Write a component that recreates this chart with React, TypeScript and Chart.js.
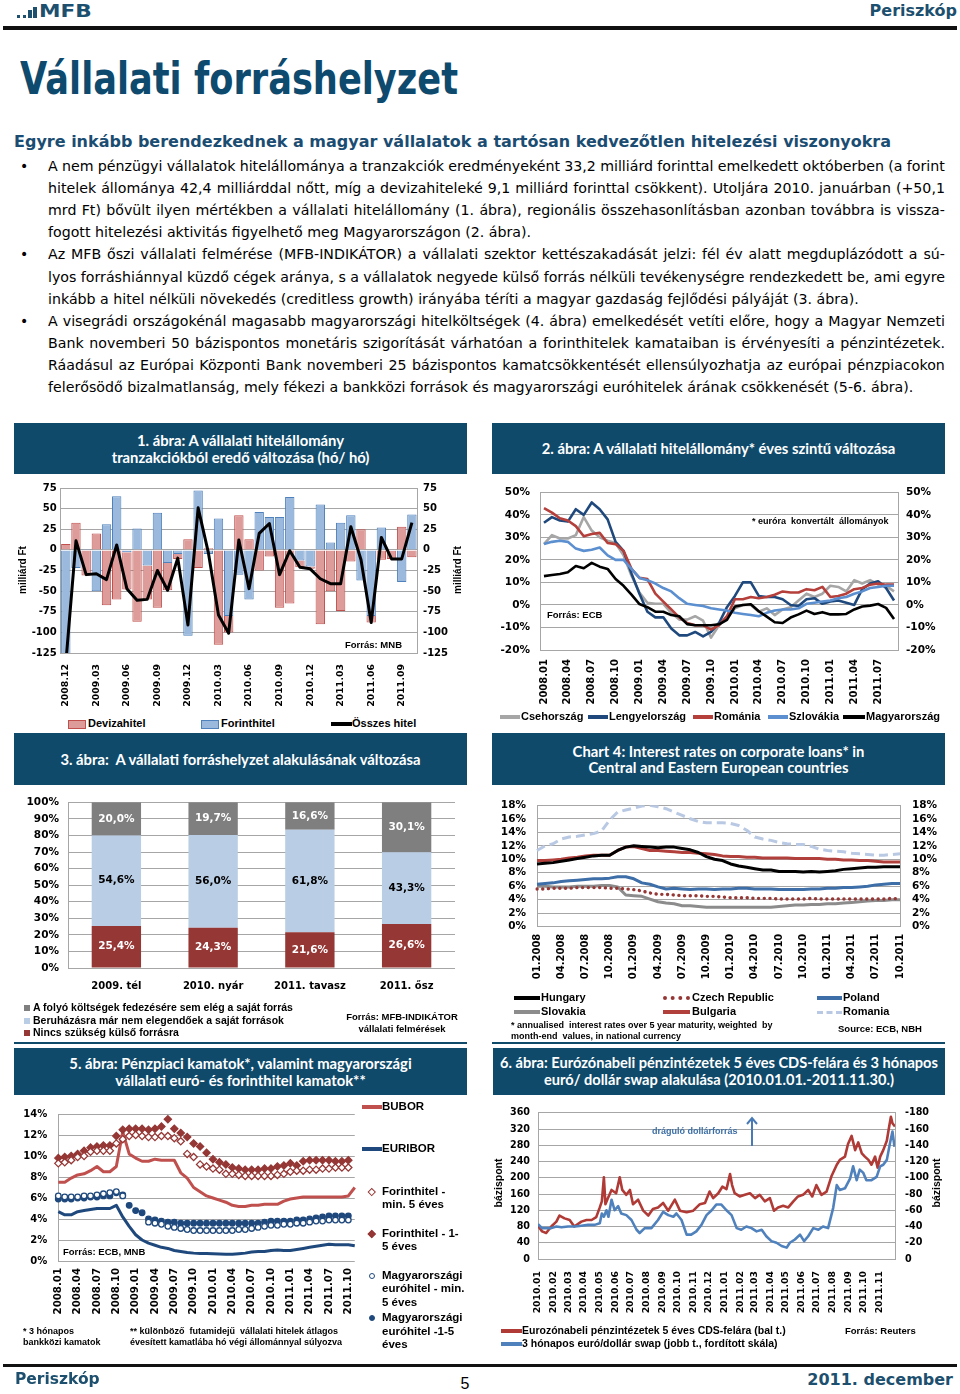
import React, { useEffect, useRef } from "react";
import { Chart, registerables } from "chart.js";
Chart.register(...registerables);

const NAVY = "#0f4a6b";
const HEAD = "#1d4f6e";
const FONT = "'DejaVu Sans', Verdana, sans-serif";
const LFONT = "'Liberation Sans', Arial, sans-serif";
const TFONT = "Lato, 'Liberation Sans', sans-serif";
const GRID = "#a6a6a6";
Chart.defaults.font.family = FONT;

function monthLabels(y: number, m: number, n: number, fmt: (y: number, m: number) => string) {
  const out: string[] = [];
  for (let i = 0; i < n; i++) {
    out.push(fmt(y, m));
    m++;
    if (m > 12) { m = 1; y++; }
  }
  return out;
}
const ym = (y: number, m: number) => `${y}.${String(m).padStart(2, "0")}`;
const my = (y: number, m: number) => `${String(m).padStart(2, "0")}.${y}`;

// ---------- Chart 1 data (2008.12 - 2011.10, milliárd Ft) ----------
const c1Months = monthLabels(2008, 12, 35, ym);
const c1Deviza = [7, 33, -31, 20, -67, -60, -45, -87, -41, -70, -33, -6, 13, -22, 2, -115, -20, 42, 13, -25, -8, -70, -65, -8, -3, -90, -50, -74, -14, 25, -8, -12, -10, 28, -9];
const c1Forint = [-145, -22, 1, -50, 31, 65, -3, 26, -19, 45, -16, -5, -104, 72, -5, 38, -80, -30, -60, 46, 40, 40, 64, -13, -20, 55, 9, 33, 42, -37, -80, 27, -1, -39, 43];
const c1Total = [-138, 11, -30, -29, -36, 6, -47, -61, -60, -25, -49, -10, -91, 51, -3, -79, -101, 12, -47, 20, 32, -30, -1, -21, -23, -35, -41, -41, 28, -12, -88, 15, -11, -11, 33];

// ---------- Chart 2 data (2008.01 - 2011.09, %) ----------
const c2Months = monthLabels(2008, 1, 45, ym);
const c2Cseh = [27, 31, 29.5, 29.5, 31, 39, 33, 30, 28.5, 27.5, 22, 13, 5.5, 1, 0.5, 0.5, -3.5, -6.5, -6.5, -5, -7, -14.5, -9, -5.5, -1.5, 0, 0, -3, -1.5, -4.5, -2, -1, 2, 5, 3.5, 5, 8.5, 8, 6, 11, 9.5, 11, 9, 8.5, 6];
const c2Lengyel = [36.5, 39, 37.5, 37, 42.5, 40, 45.5, 42.5, 38, 28, 24, 14, 5, -3, -5.5, -5.5, -10.5, -13.5, -13.5, -12, -14, -12, -8, -1, 4, 10, 10, 4, 3.5, 3.5, 2.5, 0, -0.5, 2.5, 3, 0.5, 1.5, 2, 1, 0, 7, 9.5, 10.5, 7.5, 2];
const c2Roman = [43, 41, 38.5, 37.5, 35, 30.5, 31.5, 32, 27.5, 27, 24, 16, 12, 11.5, 5, 1.5, -2, -5.5, -8, -9, -9, -11, -9, -5, 2.5, 2.5, 3.5, 3, 3.5, 4.5, 6, 5.5, 5.5, 7, 6.5, 8, 3.5, 4, 5, 7, 7.5, 9, 9.5, 9, 9];
const c2Szlovak = [27, 28, 28.5, 28, 25, 24, 24.5, 25.5, 22, 20, 20, 16, 12, 11, 9.5, 7.5, 6, 3, 0.5, 0, -0.5, -1.5, -2, -2.5, -3.5, -4, -4.5, -5, -3.5, -2.5, -2, -2, -1.5, 0.5, 1, 1.5, 2, 3, 3.5, 5, 6, 7.5, 8, 8.5, 8.5];
const c2Magyar = [12.8, 13.3, 13.7, 14.5, 17.3, 16.3, 18.7, 17, 16, 11.5, 8.5, 4.6, 0.4, -1, -3, -3, -4.5, -5, -8.5, -9, -9, -9, -8.6, -6.6, -0.7, 0, 0.3, -2.8, -5.2, -7.7, -8, -5.6, -4.2, -2.5, -4, -3.2, -4.2, -4.2, -4, -2, -0.7, -0.3, 0.4, -1.3, -6.2];

// ---------- Chart 3 data (%) ----------
const c3Labels = ["2009. tél", "2010. nyár", "2011. tavasz", "2011. ősz"];
const c3Nincs = [25.4, 24.3, 21.6, 26.6];
const c3Beruh = [54.6, 56.0, 61.8, 43.3];
const c3Folyo = [20.0, 19.7, 16.6, 30.1];

// ---------- Chart 4 data (01.2008 - 10.2011, %) ----------
const c4Months = monthLabels(2008, 1, 46, my);
const c4Hungary = [9.3, 9.4, 9.5, 9.7, 9.9, 10.1, 10.3, 10.5, 10.6, 10.6, 11.3, 11.8, 12.0, 11.9, 11.8, 11.7, 11.8, 11.8, 11.6, 11.4, 11.0, 10.4, 10.0, 9.8, 9.3, 9.0, 8.8, 8.6, 8.4, 8.4, 8.2, 8.2, 8.2, 8.1, 8.2, 8.1, 8.2, 8.3, 8.5, 8.6, 8.7, 8.8, 8.8, 8.9, 8.9, 8.9];
const c4Czech = [5.6, 5.6, 5.7, 5.7, 5.7, 5.8, 5.8, 5.8, 5.8, 5.7, 5.7, 5.6, 5.5, 5.3, 5.0, 4.8, 4.8, 4.7, 4.6, 4.6, 4.6, 4.5, 4.5, 4.4, 4.3, 4.3, 4.3, 4.2, 4.2, 4.2, 4.1, 4.1, 4.1, 4.1, 4.2, 4.1, 4.1, 4.1, 4.1, 4.1, 4.1, 4.1, 4.1, 4.1, 4.2, 4.1];
const c4Poland = [6.3, 6.4, 6.5, 6.7, 6.8, 6.9, 7.0, 7.1, 7.1, 7.2, 7.4, 7.4, 7.1, 6.5, 6.3, 5.9, 5.6, 5.7, 5.6, 5.5, 5.6, 5.6, 5.5, 5.6, 5.6, 5.7, 5.7, 5.6, 5.6, 5.6, 5.5, 5.5, 5.5, 5.5, 5.6, 5.6, 5.7, 5.7, 5.8, 5.8, 5.9, 6.0, 6.2, 6.3, 6.4, 6.4];
const c4Slovakia = [6.0, 6.0, 5.9, 5.9, 5.9, 6.0, 6.0, 6.0, 6.1, 6.1, 5.9, 4.7, 4.6, 4.5, 4.1, 3.7, 3.5, 3.4, 3.1, 3.1, 3.0, 2.9, 2.9, 2.9, 2.9, 2.9, 2.9, 2.9, 2.9, 2.9, 3.0, 3.1, 3.2, 3.2, 3.3, 3.3, 3.4, 3.4, 3.5, 3.6, 3.7, 3.8, 3.9, 3.9, 4.0, 4.0];
const c4Bulgaria = [9.8, 9.8, 9.9, 10.0, 10.2, 10.3, 10.5, 10.6, 10.6, 10.6, 11.3, 11.8, 11.9, 11.6, 11.3, 11.3, 11.2, 11.1, 11.0, 11.0, 10.9, 10.8, 10.7, 10.5, 10.4, 10.4, 10.3, 10.3, 10.2, 10.2, 10.2, 10.2, 10.1, 10.1, 10.1, 10.1, 10.0, 10.0, 9.9, 9.9, 9.8, 9.8, 9.7, 9.6, 9.6, 9.6];
const c4Romania = [11.3, 12.0, 12.3, 13.0, 13.3, 13.4, 13.6, 13.8, 14.2, 15.8, 17.0, 17.3, 17.6, 17.9, 18.0, 17.8, 17.5, 17.0, 16.5, 16.0, 15.6, 15.4, 15.4, 15.4, 15.3, 15.0, 14.3, 13.3, 13.0, 12.8, 12.5, 12.3, 12.2, 12.2, 11.9, 11.5, 11.3, 11.2, 11.1, 10.9, 10.8, 10.7, 10.6, 10.6, 10.7, 10.8];

// ---------- Chart 5 data (2008.01 - 2011.11, %) ----------
const c5Months = monthLabels(2008, 1, 47, ym);
const c5Bubor = [7.5, 7.5, 7.9, 8.2, 8.3, 8.6, 9.0, 8.5, 8.5, 9.0, 12.3, 10.2, 9.8, 9.5, 9.5, 9.7, 9.6, 9.6, 9.6, 8.4, 7.9, 7.0, 6.6, 6.2, 6.0, 5.8, 5.6, 5.3, 5.2, 5.2, 5.3, 5.3, 5.4, 5.4, 5.4, 5.7, 5.9, 6.0, 6.1, 6.1, 6.1, 6.1, 6.1, 6.1, 6.1, 6.2, 7.0];
const c5Euribor = [4.7, 4.4, 4.4, 4.7, 4.8, 4.9, 5.0, 5.0, 5.0, 5.3, 4.2, 3.3, 2.5, 2.0, 1.7, 1.5, 1.3, 1.2, 1.0, 0.9, 0.8, 0.75, 0.72, 0.71, 0.68, 0.66, 0.65, 0.65, 0.7, 0.75, 0.85, 0.9, 0.9, 1.0, 1.05, 1.0, 1.0, 1.1, 1.2, 1.3, 1.4, 1.5, 1.6, 1.55, 1.55, 1.55, 1.45];
const c5ForMin5 = [9.3, 9.4, 9.6, 9.9, 10.0, 10.4, 10.5, 10.5, 10.5, 11.2, 11.6, 11.9, 12.0, 11.9, 11.8, 11.8, 11.9, 11.9, 11.7, 11.4, 10.2, 9.9, 9.2, 9.0, 8.8, 8.7, 8.3, 8.3, 8.2, 8.1, 8.1, 8.1, 8.1, 8.1, 8.2, 8.3, 8.5, 8.6, 8.6, 8.7, 8.7, 8.8, 8.8, 8.9, 8.9, 8.9, null];
const c5For15 = [9.8, 9.9, 10.0, 10.2, 10.5, 10.8, 10.9, 11.0, 11.0, 11.9, 12.5, 12.6, 12.6, 12.6, 12.5, 12.6, 12.8, 13.5, 12.6, 12.2, 11.8, 11.2, 10.9, 10.3, 9.7, 9.4, 9.2, 8.9, 8.8, 8.7, 8.7, 8.7, 8.8, 8.8, 9.0, 9.1, 9.3, 9.1, 9.5, 9.6, 9.6, 9.6, 9.6, 9.5, 9.5, 9.6, null];
const c5EurMin5 = [6.2, 6.1, 6.1, 6.1, 6.2, 6.2, 6.3, 6.4, 6.5, 6.6, 6.2, null, null, null, 3.7, 3.6, 3.5, 3.3, 3.2, 3.1, 3.0, 2.9, 2.9, 2.9, 2.9, 2.9, 2.9, 2.9, 3.0, 3.0, 3.1, 3.2, 3.3, 3.4, 3.4, 3.5, 3.5, 3.6, 3.6, 3.7, 3.8, 3.8, 3.9, 3.9, 3.9, 3.9, null];
const c5Eur15 = [5.9, 5.9, 5.9, 6.0, 6.0, 6.1, 6.1, 6.2, 6.2, 6.5, 6.3, 5.3, 4.8, 4.6, 4.0, 3.9, 3.8, 3.7, 3.7, 3.6, 3.6, 3.6, 3.6, 3.6, 3.6, 3.6, 3.6, 3.6, 3.6, 3.6, 3.6, 3.6, 3.7, 3.8, 3.8, 3.8, 3.8, 3.9, 3.9, 4.0, 4.1, 4.2, 4.3, 4.3, 4.3, 4.3, null];

// ---------- Chart 6 data (days since 2010.01.01, bázispont) ----------
const c6MonthDays = [0, 31, 59, 90, 120, 151, 181, 212, 243, 273, 304, 334, 365, 396, 424, 455, 485, 516, 546, 577, 608, 638, 669];
const c6MonthLabels = monthLabels(2010, 1, 23, ym);
const c6CdsDays = [0, 8, 16, 26, 36, 42, 52, 62, 71, 85, 95, 105, 114, 121, 125, 129, 132, 137, 144, 153, 160, 165, 173, 180, 186, 196, 206, 216, 225, 235, 245, 255, 268, 278, 291, 304, 317, 327, 336, 343, 353, 361, 369, 376, 380, 385, 395, 405, 415, 425, 434, 444, 454, 462, 470, 480, 490, 500, 509, 519, 529, 537, 545, 555, 565, 575, 585, 591, 601, 607, 614, 621, 627, 634, 640, 647, 653, 660, 665, 670, 676, 683, 687, 691, 694, 699];
const c6CdsValues = [82, 68, 64, 80, 92, 107, 100, 96, 80, 92, 96, 96, 103, 127, 142, 201, 135, 150, 170, 162, 201, 170, 158, 170, 135, 146, 119, 107, 123, 127, 138, 119, 146, 119, 115, 119, 135, 138, 166, 150, 162, 178, 172, 209, 182, 162, 154, 158, 162, 150, 158, 142, 150, 119, 127, 131, 127, 142, 154, 158, 170, 154, 182, 158, 166, 205, 232, 244, 252, 283, 303, 268, 287, 260, 252, 244, 232, 252, 225, 252, 268, 291, 322, 350, 334, 326];
const c6SwapDays = [0, 8, 16, 26, 36, 46, 59, 72, 85, 98, 111, 121, 125, 129, 134, 138, 144, 150, 157, 163, 173, 183, 193, 199, 209, 222, 235, 245, 255, 265, 271, 281, 291, 300, 310, 320, 330, 340, 349, 359, 369, 379, 389, 398, 408, 418, 428, 438, 447, 457, 467, 477, 487, 493, 503, 513, 521, 529, 539, 549, 558, 568, 578, 585, 591, 601, 611, 617, 624, 630, 637, 643, 653, 663, 670, 676, 683, 689, 694, 698];
const c6SwapValues = [-43, -38, -38, -38, -40, -39, -40, -40, -41, -42, -42, -44, -56, -52, -60, -52, -73, -60, -65, -56, -54, -48, -36, -32, -38, -38, -48, -58, -54, -52, -56, -48, -30, -30, -34, -42, -54, -60, -67, -67, -60, -54, -38, -36, -40, -38, -34, -36, -28, -22, -20, -16, -14, -20, -24, -30, -22, -28, -38, -36, -40, -38, -63, -91, -85, -87, -99, -114, -97, -110, -106, -97, -97, -101, -114, -116, -122, -142, -157, -138];

// ---------- text ----------
const bulletParas: string[][] = [
  [
    "A nem pénzügyi vállalatok hitelállománya a tranzakciók eredményeként 33,2 milliárd forinttal emelkedett októberben (a forint",
    "hitelek állománya 42,4 milliárddal nőtt, míg a devizahiteleké 9,1 milliárd forinttal csökkent). Utoljára 2010. januárban (+50,1",
    "mrd Ft) bővült ilyen mértékben a vállalati hitelállomány (1. ábra), regionális összehasonlításban azonban továbbra is vissza-",
    "fogott hitelezési aktivitás figyelhető meg Magyarországon (2. ábra).",
  ],
  [
    "Az MFB őszi vállalati felmérése (MFB-INDIKÁTOR) a vállalati szektor kettészakadását jelzi: fél év alatt megduplázódott a sú-",
    "lyos forráshiánnyal küzdő cégek aránya, s a vállalatok negyede külső forrás nélküli tevékenységre rendezkedett be, ami egyre",
    "inkább a hitel nélküli növekedés (creditless growth) irányába téríti a magyar gazdaság fejlődési pályáját (3. ábra).",
  ],
  [
    "A visegrádi országokénál magasabb magyarországi hitelköltségek (4. ábra) emelkedését vetíti előre, hogy a Magyar Nemzeti",
    "Bank novemberi 50 bázispontos monetáris szigorítását várhatóan a forinthitelek kamataiban is érvényesíti a pénzintézetek.",
    "Ráadásul az Európai Központi Bank novemberi 25 bázispontos kamatcsökkentését ellensúlyozhatja az európai pénzpiacokon",
    "felerősödő bizalmatlanság, mely fékezi a bankközi források és magyarországi euróhitelek árának csökkenését (5-6. ábra).",
  ],
];

// ---------- chart helpers ----------
const tf = (size: number) => ({ family: FONT, size, weight: "bold" as any });

function yAx(o: any) {
  return {
    type: "linear",
    position: o.pos || "left",
    min: o.min,
    max: o.max,
    reverse: !!o.reverse,
    stacked: !!o.stacked,
    ticks: { autoSkip: false, stepSize: o.step, padding: o.pad, color: "#000", font: tf(o.size), callback: (v: any) => (o.fmt ? o.fmt(v) : String(v)) },
    grid: { display: !!o.grid, color: GRID, drawTicks: false },
    border: { display: true, color: GRID },
    afterFit: (s: any) => { s.width = o.width; },
  };
}

function xCat(o: any) {
  const rot = o.rot === undefined ? 90 : o.rot;
  return {
    type: "category",
    offset: o.offset,
    stacked: !!o.stacked,
    grid: { display: false, drawTicks: false },
    border: { display: false },
    ticks: {
      autoSkip: false, minRotation: rot, maxRotation: rot, padding: o.pad, color: "#000", font: tf(o.size),
      callback: (_v: any, i: number) => (i % o.every === 0 ? o.labels[i] : ""),
    },
    afterFit: (s: any) => { s.height = o.height; },
  };
}

function baseOpts(padTop: number, padRight = 0) {
  return {
    responsive: false,
    maintainAspectRatio: false,
    animation: false,
    events: [],
    layout: { padding: { top: padTop, right: padRight, left: 0, bottom: 0 } },
    plugins: { legend: { display: false }, tooltip: { enabled: false }, title: { display: false } },
  };
}

const lineDs = (label: string, data: any[], color: string, extra: any = {}) => ({
  type: "line", label, data, borderColor: color, backgroundColor: color, borderWidth: 2.6, pointRadius: 0, tension: 0, fill: false, borderJoinStyle: "round", ...extra,
});

const makeC1 = () => ({
  type: "bar",
  data: {
    labels: c1Months,
    datasets: [
      { ...lineDs("Összes hitel", c1Total, "#000", { borderWidth: 3 }), order: 0, stack: "total" },
      { type: "bar", label: "Forinthitel", data: c1Forint, backgroundColor: "#9bb9dd", borderColor: "#4f81bd", borderWidth: 1, order: 1, stack: "bars", categoryPercentage: 0.92, barPercentage: 1 },
      { type: "bar", label: "Devizahitel", data: c1Deviza, backgroundColor: "#dd9c9a", borderColor: "#c0504d", borderWidth: 1, order: 1, stack: "bars", categoryPercentage: 0.92, barPercentage: 1 },
    ],
  },
  options: {
    ...baseOpts(9.7),
    scales: {
      x: xCat({ labels: c1Months, every: 3, height: 63, size: 9.4, pad: 11, offset: true, stacked: true }),
      y: yAx({ min: -125, max: 75, step: 25, width: 46.7, size: 10, pad: 4, grid: true, stacked: true }),
      y2: yAx({ pos: "right", min: -125, max: 75, step: 25, width: 50, size: 10, pad: 6, grid: false }),
    },
  },
});

const pct = (v: any) => `${v}%`;

const makeC2 = () => ({
  type: "line",
  data: {
    labels: c2Months,
    datasets: [
      { ...lineDs("Magyarország", c2Magyar, "#000"), order: 0 },
      { ...lineDs("Szlovákia", c2Szlovak, "#5b8fd0"), order: 1 },
      { ...lineDs("Románia", c2Roman, "#b43f3b"), order: 2 },
      { ...lineDs("Lengyelország", c2Lengyel, "#1f497d"), order: 3 },
      { ...lineDs("Csehország", c2Cseh, "#a6a6a6"), order: 4 },
    ],
  },
  options: {
    ...baseOpts(8),
    scales: {
      x: xCat({ labels: c2Months, every: 3, height: 58, size: 10, pad: 9, offset: true }),
      y: yAx({ min: -20, max: 50, step: 10, width: 48, size: 10.5, pad: 10, grid: true, fmt: pct }),
      y2: yAx({ pos: "right", min: -20, max: 50, step: 10, width: 49, size: 10.5, pad: 8, grid: false, fmt: pct }),
    },
  },
});

const c3LabelColors = ["#fff", "#000", "#fff"];
const c3LabelPlugin = {
  id: "c3labels",
  afterDatasetsDraw(chart: any) {
    const ctx = chart.ctx;
    ctx.save();
    ctx.font = `bold 10.5px ${FONT}`;
    ctx.textAlign = "center";
    ctx.textBaseline = "middle";
    chart.data.datasets.forEach((ds: any, di: number) => {
      const meta = chart.getDatasetMeta(di);
      meta.data.forEach((el: any, i: number) => {
        const v = ds.data[i];
        ctx.fillStyle = c3LabelColors[di];
        ctx.fillText(v.toFixed(1).replace(".", ",") + "%", el.x, (el.y + el.base) / 2);
      });
    });
    ctx.restore();
  },
};

const makeC3 = () => ({
  type: "bar",
  data: {
    labels: c3Labels,
    datasets: [
      { label: "Nincs szükség külső forrásra", data: c3Nincs, backgroundColor: "#953735", barPercentage: 0.51, categoryPercentage: 1 },
      { label: "Beruházásra már nem elegendőek a saját források", data: c3Beruh, backgroundColor: "#b9cde5", barPercentage: 0.51, categoryPercentage: 1 },
      { label: "A folyó költségek fedezésére sem elég a saját forrás", data: c3Folyo, backgroundColor: "#7f7f7f", barPercentage: 0.51, categoryPercentage: 1 },
    ],
  },
  options: {
    ...baseOpts(8.7, 12),
    scales: {
      x: xCat({ labels: c3Labels, every: 1, height: 34, size: 10, pad: 12, offset: true, stacked: true, rot: 0 }),
      y: yAx({ min: 0, max: 100, step: 10, width: 54, size: 10.5, pad: 9, grid: true, stacked: true, fmt: pct }),
    },
  },
  plugins: [c3LabelPlugin],
});

const makeC4 = () => ({
  type: "line",
  data: {
    labels: c4Months,
    datasets: [
      { ...lineDs("Hungary", c4Hungary, "#000", { borderWidth: 3 }), order: 0 },
      { ...lineDs("Czech Republic", c4Czech, "#953735", { borderWidth: 3.4, borderDash: [0.1, 5.6], borderCapStyle: "round" }), order: 1 },
      { ...lineDs("Poland", c4Poland, "#3d6ea8", { borderWidth: 3 }), order: 2 },
      { ...lineDs("Slovakia", c4Slovakia, "#8c8c8c", { borderWidth: 3 }), order: 3 },
      { ...lineDs("Bulgaria", c4Bulgaria, "#b1403c", { borderWidth: 3 }), order: 4 },
      { ...lineDs("Romania", c4Romania, "#b9c9e3", { borderWidth: 3, borderDash: [9, 5] }), order: 5 },
    ],
  },
  options: {
    ...baseOpts(8.7),
    scales: {
      x: xCat({ labels: c4Months, every: 3, height: 63.3, size: 10, pad: 7, offset: false }),
      y: yAx({ min: 0, max: 18, step: 2, width: 45, size: 10.5, pad: 11, grid: true, fmt: pct }),
      y2: yAx({ pos: "right", min: 0, max: 18, step: 2, width: 47, size: 10.5, pad: 12, grid: false, fmt: pct }),
    },
  },
});

const markerDs = (label: string, data: any[], style: string, color: string, hollow: boolean, r: number) => ({
  type: "line", label, data, showLine: false, pointStyle: style, pointRadius: r, pointBorderWidth: 1.3,
  pointBorderColor: color, pointBackgroundColor: hollow ? "#fff" : color, borderColor: color, backgroundColor: color, order: 0,
});

const makeC5 = () => ({
  type: "line",
  data: {
    labels: c5Months,
    datasets: [
      markerDs("Forinthitel - min. 5 éves", c5ForMin5, "rectRot", "#953735", true, 3.6),
      markerDs("Forinthitel - 1-5 éves", c5For15, "rectRot", "#953735", false, 3.6),
      markerDs("Magyarországi euróhitel - min. 5 éves", c5EurMin5, "circle", "#1f497d", true, 2.8),
      markerDs("Magyarországi euróhitel -1-5 éves", c5Eur15, "circle", "#1f497d", false, 2.8),
      { ...lineDs("BUBOR", c5Bubor, "#c0504d", { borderWidth: 3 }), order: 1 },
      { ...lineDs("EURIBOR", c5Euribor, "#1f497d", { borderWidth: 3 }), order: 1 },
    ],
  },
  options: {
    ...baseOpts(5.7, 14.7),
    scales: {
      x: xCat({ labels: c5Months, every: 3, height: 58, size: 10.2, pad: 7, offset: false }),
      y: yAx({ min: 0, max: 14, step: 2, width: 44.3, size: 10, pad: 11, grid: true, fmt: pct }),
    },
  },
});

const makeC6 = () => ({
  type: "line",
  data: {
    datasets: [
      { ...lineDs("3 hónapos euró/dollár swap (jobb t., fordított skála)", c6SwapDays.map((d, i) => ({ x: d, y: c6SwapValues[i] })), "#4f81bd", { borderWidth: 2.6 }), yAxisID: "y2", order: 0 },
      { ...lineDs("Eurozónabeli pénzintézetek 5 éves CDS-felára (bal t.)", c6CdsDays.map((d, i) => ({ x: d, y: c6CdsValues[i] })), "#b03a36", { borderWidth: 2.6 }), yAxisID: "y", order: 1 },
    ],
  },
  options: {
    ...baseOpts(8.7),
    scales: {
      x: {
        type: "linear", min: 0, max: 699, offset: false,
        grid: { display: false, drawTicks: false },
        border: { display: false },
        afterBuildTicks: (s: any) => { s.ticks = c6MonthDays.map((v) => ({ value: v })); },
        ticks: { autoSkip: false, minRotation: 90, maxRotation: 90, padding: 12, color: "#000", font: tf(9.3), callback: (_v: any, i: number) => c6MonthLabels[i] },
        afterFit: (s: any) => { s.height = 60; },
      },
      y: yAx({ min: 0, max: 360, step: 40, width: 45, size: 9.6, pad: 8, grid: true }),
      y2: yAx({ pos: "right", min: -180, max: 0, step: 20, width: 52, size: 9.6, pad: 10, grid: false, reverse: true }),
    },
  },
});

// ---------- components ----------
function ChartBox({ x, y, w, h, make }: any) {
  const ref = useRef<HTMLCanvasElement | null>(null);
  useEffect(() => {
    if (!ref.current) return;
    const chart = new Chart(ref.current, make());
    return () => chart.destroy();
  }, []);
  return <canvas ref={ref} width={w} height={h} style={{ position: "absolute", left: x, top: y, width: w, height: h }} />;
}

function Txt({ x, cy, t, size = 11, w = 700, fam = LFONT, color = "#000", align = "left" }: any) {
  const lh = Math.round(size * 1.3);
  const st: any = { position: "absolute", top: cy - lh / 2, height: lh, lineHeight: `${lh}px`, font: `${w} ${size}px ${fam}`, color, whiteSpace: "pre" };
  if (align === "left") st.left = x;
  else if (align === "right") st.right = 960 - x;
  else { st.left = x - 150; st.width = 300; st.textAlign = "center"; }
  return <div style={st}>{t}</div>;
}

function VTxt({ cx, cy, t, size = 10 }: any) {
  return (
    <div style={{ position: "absolute", left: cx - 60, top: cy - 8, width: 120, height: 16, lineHeight: "16px", textAlign: "center", transform: "rotate(-90deg)", font: `700 ${size}px ${LFONT}`, color: "#000", whiteSpace: "pre" }}>{t}</div>
  );
}

function TitleBox({ x, y, w, h, lines, size = 14.8 }: any) {
  return (
    <div style={{ position: "absolute", left: x, top: y, width: w, height: h, background: NAVY, color: "#fff", display: "flex", flexDirection: "column", alignItems: "center", justifyContent: "center", font: `700 ${size}px ${TFONT}`, lineHeight: `${size + 1.5}px`, textAlign: "center" }}>
      {lines.map((l: string, i: number) => (<div key={i} style={{ whiteSpace: "pre" }}>{l}</div>))}
    </div>
  );
}

const LineSw = ({ x, y, w, color, h = 3.5 }: any) => (<div style={{ position: "absolute", left: x, top: y - h / 2, width: w, height: h, background: color }} />);
const DotSw = ({ x, y, w, color }: any) => (<div style={{ position: "absolute", left: x, top: y - 2, width: w, height: 0, borderTop: `4px dotted ${color}` }} />);
const DashSw = ({ x, y, w, color }: any) => (<div style={{ position: "absolute", left: x, top: y - 1.5, width: w, height: 0, borderTop: `3px dashed ${color}` }} />);
const BoxSw = ({ x, y, w, h, fill, stroke }: any) => (<div style={{ position: "absolute", left: x, top: y - h / 2, width: w, height: h, background: fill, border: stroke ? `1px solid ${stroke}` : "none", boxSizing: "border-box" }} />);
const Diamond = ({ cx, cy, color, hollow }: any) => (<div style={{ position: "absolute", left: cx - 2.75, top: cy - 2.75, width: 5.5, height: 5.5, transform: "rotate(45deg)", background: hollow ? "#fff" : color, border: `1.3px solid ${color}`, boxSizing: "border-box" }} />);
const Dot = ({ cx, cy, color, hollow }: any) => (<div style={{ position: "absolute", left: cx - 3, top: cy - 3, width: 6, height: 6, borderRadius: "50%", background: hollow ? "#fff" : color, border: `1.3px solid ${color}`, boxSizing: "border-box" }} />);

function JLine({ text, cy, justify }: any) {
  const words = text.split(" ");
  const st: any = { position: "absolute", left: 48, width: 897, top: cy - 11, height: 22, lineHeight: "22px", font: `400 14.2px ${FONT}`, color: "#000", whiteSpace: "nowrap" };
  if (justify) { st.display = "flex"; st.justifyContent = "space-between"; }
  return <div style={st}>{justify ? words.map((w: string, i: number) => <span key={i}>{w}</span>) : text}</div>;
}

export default function App() {
  useEffect(() => { document.body.style.margin = "0"; }, []);
  let k = 0;
  const bodyLines: any[] = [];
  bulletParas.forEach((p, pi) => {
    p.forEach((line, li) => {
      const cy = 169 + 22.1 * k;
      if (li === 0) bodyLines.push(<div key={`b${pi}`} style={{ position: "absolute", left: 20, top: cy - 11, lineHeight: "22px", font: `400 14px ${FONT}` }}>•</div>);
      const isLast = li === p.length - 1;
      bodyLines.push(<JLine key={`l${pi}-${li}`} text={line} cy={cy} justify={!isLast} />);
      k++;
    });
  });

  return (
    <div style={{ position: "absolute", left: 0, top: 0, width: 960, height: 1394, background: "#fff", overflow: "hidden", fontFamily: FONT }}>
      {/* header */}
      <div style={{ position: "absolute", left: 17, top: 15, width: 3, height: 3, background: HEAD }} />
      <div style={{ position: "absolute", left: 23, top: 15, width: 3, height: 3, background: HEAD }} />
      <div style={{ position: "absolute", left: 28, top: 10, width: 4, height: 8, background: HEAD }} />
      <div style={{ position: "absolute", left: 33, top: 7, width: 4, height: 11, background: HEAD }} />
      <div style={{ position: "absolute", left: 39, top: -1, font: `700 18px ${FONT}`, lineHeight: "24px", color: HEAD, transform: "scaleX(1.2)", transformOrigin: "left" }}>MFB</div>
      <Txt x={957} cy={11} t="Periszkóp" size={16} fam={FONT} color={HEAD} align="right" />
      <div style={{ position: "absolute", left: 3, top: 26, width: 954, height: 4, background: "#111" }} />

      {/* title */}
      <div style={{ position: "absolute", left: 20, top: 57, font: `700 44px ${FONT}`, lineHeight: "44px", color: "#0d4a6e", whiteSpace: "nowrap", transform: "scaleX(0.8)", transformOrigin: "left" }}>Vállalati forráshelyzet</div>

      <Txt x={14} cy={142} t="Egyre inkább berendezkednek a magyar vállalatok a tartósan kedvezőtlen hitelezési viszonyokra" size={16} fam={FONT} color="#1b4d72" />
      {bodyLines}

      {/* ---- Chart 1 ---- */}
      <TitleBox x={14} y={423} w={453} h={51} lines={["1. ábra: A vállalati hitelállomány", "tranzakciókból eredő változása (hó/ hó)"]} />
      <ChartBox x={14} y={476} w={453} h={240} make={makeC1} />
      <VTxt cx={25} cy={570} t="milliárd Ft" size={10} />
      <VTxt cx={460} cy={570} t="milliárd Ft" size={10} />
      <Txt x={345} cy={645} t="Forrás: MNB" size={9.5} />
      <BoxSw x={68} y={724} w={18} h={9} fill="#dd9c9a" stroke="#c0504d" />
      <Txt x={88} cy={724} t="Devizahitel" size={11} />
      <BoxSw x={201} y={724} w={18} h={9} fill="#9bb9dd" stroke="#4f81bd" />
      <Txt x={221} cy={724} t="Forinthitel" size={11} />
      <LineSw x={331} y={724} w={21} color="#000" />
      <Txt x={352} cy={724} t="Összes hitel" size={11} />

      {/* ---- Chart 2 ---- */}
      <TitleBox x={492} y={423} w={453} h={51} lines={["2. ábra: A vállalati hitelállomány* éves szintű változása"]} />
      <ChartBox x={492} y={476} w={455} h={232} make={makeC2} />
      <Txt x={752} cy={522} t="* euróra  konvertált  állományok" size={9} />
      <Txt x={547} cy={615} t="Forrás: ECB" size={9.5} />
      <LineSw x={500} y={717} w={20} color="#a6a6a6" />
      <Txt x={521} cy={717} t="Csehország" size={11} />
      <LineSw x={588} y={717} w={20} color="#1f497d" />
      <Txt x={609} cy={717} t="Lengyelország" size={11} />
      <LineSw x={693} y={717} w={20} color="#b43f3b" />
      <Txt x={714} cy={717} t="Románia" size={11} />
      <LineSw x={768} y={717} w={20} color="#5b8fd0" />
      <Txt x={789} cy={717} t="Szlovákia" size={11} />
      <LineSw x={843} y={717} w={22} color="#000" />
      <Txt x={866} cy={717} t="Magyarország" size={11} />

      {/* ---- Chart 3 ---- */}
      <TitleBox x={14} y={733} w={453} h={52} lines={["3. ábra:  A vállalati forráshelyzet alakulásának változása"]} />
      <ChartBox x={14} y={787} w={453} h={215} make={makeC3} />
      <BoxSw x={24} y={1008} w={6} h={6} fill="#7f7f7f" />
      <Txt x={33} cy={1008} t="A folyó költségek fedezésére sem elég a saját forrás" size={10.5} />
      <BoxSw x={24} y={1021} w={6} h={6} fill="#b9cde5" />
      <Txt x={33} cy={1021} t="Beruházásra már nem elegendőek a saját források" size={10.5} />
      <BoxSw x={24} y={1033} w={6} h={6} fill="#953735" />
      <Txt x={33} cy={1033} t="Nincs szükség külső forrásra" size={10.5} />
      <Txt x={402} cy={1017} t="Forrás: MFB-INDIKÁTOR" size={9.5} align="center" />
      <Txt x={402} cy={1029} t="vállalati felmérések" size={9.5} align="center" />
      <div style={{ position: "absolute", left: 14, top: 1042, width: 453, height: 2, background: NAVY }} />

      {/* ---- Chart 4 ---- */}
      <TitleBox x={492} y={733} w={453} h={52} lines={["Chart 4: Interest rates on corporate loans* in", "Central and Eastern European countries"]} />
      <ChartBox x={492} y={787} w={455} h={203} make={makeC4} />
      <LineSw x={514} y={998} w={26} color="#000" />
      <Txt x={541} cy={998} t="Hungary" size={11} />
      <DotSw x={663} y={998} w={27} color="#953735" />
      <Txt x={692} cy={998} t="Czech Republic" size={11} />
      <LineSw x={817} y={998} w={25} color="#3d6ea8" />
      <Txt x={843} cy={998} t="Poland" size={11} />
      <LineSw x={514} y={1012} w={26} color="#8c8c8c" />
      <Txt x={541} cy={1012} t="Slovakia" size={11} />
      <LineSw x={663} y={1012} w={27} color="#b1403c" />
      <Txt x={692} cy={1012} t="Bulgaria" size={11} />
      <DashSw x={817} y={1012} w={25} color="#b9c9e3" />
      <Txt x={843} cy={1012} t="Romania" size={11} />
      <Txt x={511} cy={1026} t="* annualised  interest rates over 5 year maturity, weighted  by" size={9} />
      <Txt x={511} cy={1037} t="month-end  values, in national currency" size={9} />
      <Txt x={838} cy={1029} t="Source: ECB, NBH" size={9.5} />
      <div style={{ position: "absolute", left: 492, top: 1042, width: 453, height: 2, background: NAVY }} />

      {/* ---- Chart 5 ---- */}
      <TitleBox x={14} y={1048} w={453} h={47} lines={["5. ábra: Pénzpiaci kamatok*, valamint magyarországi", "vállalati euró- és forinthitel kamatok**"]} />
      <ChartBox x={14} y={1097} w={360} h={222} make={makeC5} />
      <Txt x={63} cy={1252} t="Forrás: ECB, MNB" size={9.5} />
      <LineSw x={362} y={1107} w={20} color="#c0504d" />
      <Txt x={382} cy={1107} t="BUBOR" size={11.5} />
      <LineSw x={362} y={1149} w={20} color="#1f497d" />
      <Txt x={382} cy={1149} t="EURIBOR" size={11.5} />
      <Diamond cx={372} cy={1192} color="#953735" hollow />
      <Txt x={382} cy={1192} t="Forinthitel -" size={11.5} />
      <Txt x={382} cy={1205} t="min. 5 éves" size={11.5} />
      <Diamond cx={372} cy={1234} color="#953735" />
      <Txt x={382} cy={1234} t="Forinthitel - 1-" size={11.5} />
      <Txt x={382} cy={1247} t="5 éves" size={11.5} />
      <Dot cx={372} cy={1276} color="#1f497d" hollow />
      <Txt x={382} cy={1276} t="Magyarországi" size={11.5} />
      <Txt x={382} cy={1289} t="euróhitel - min." size={11.5} />
      <Txt x={382} cy={1303} t="5 éves" size={11.5} />
      <Dot cx={372} cy={1318} color="#1f497d" />
      <Txt x={382} cy={1318} t="Magyarországi" size={11.5} />
      <Txt x={382} cy={1332} t="euróhitel -1-5" size={11.5} />
      <Txt x={382} cy={1345} t="éves" size={11.5} />
      <Txt x={23} cy={1332} t="* 3 hónapos" size={9} />
      <Txt x={23} cy={1343} t="bankközi kamatok" size={9} />
      <Txt x={130} cy={1332} t="** különböző  futamidejű  vállalati hitelek átlagos" size={9} />
      <Txt x={130} cy={1343} t="évesített kamatlába hó végi állománnyal súlyozva" size={9} />

      {/* ---- Chart 6 ---- */}
      <TitleBox x={493} y={1048} w={452} h={47} lines={["6. ábra: Eurózónabeli pénzintézetek 5 éves CDS-felára és 3 hónapos", "euró/ dollár swap alakulása (2010.01.01.-2011.11.30.)"]} size={14.6} />
      <ChartBox x={493} y={1097} w={454} h={222} make={makeC6} />
      <VTxt cx={500} cy={1183} t="bázispont" size={10.5} />
      <VTxt cx={938} cy={1183} t="bázispont" size={10.5} />
      <Txt x={652} cy={1132} t="dráguló dollárforrás" size={9} color="#3d6fa5" />
      <svg style={{ position: "absolute", left: 745, top: 1116, width: 14, height: 31 }} width={14} height={31}>
        <line x1={7} y1={30} x2={7} y2={3} stroke="#4a7ab5" strokeWidth={2} />
        <polyline points="2,8 7,2 12,8" fill="none" stroke="#4a7ab5" strokeWidth={2} />
      </svg>
      <LineSw x={501} y={1331} w={21} color="#b03a36" />
      <Txt x={522} cy={1331} t="Eurozónabeli pénzintézetek 5 éves CDS-felára (bal t.)" size={10.5} />
      <LineSw x={501} y={1344} w={21} color="#4f81bd" />
      <Txt x={522} cy={1344} t="3 hónapos euró/dollár swap (jobb t., fordított skála)" size={10.5} />
      <Txt x={845} cy={1331} t="Forrás: Reuters" size={9.5} />

      {/* footer */}
      <div style={{ position: "absolute", left: 3, top: 1364, width: 954, height: 3, background: "#111" }} />
      <Txt x={15} cy={1380} t="Periszkóp" size={15.5} fam={FONT} color={HEAD} />
      <Txt x={465} cy={1385} t="5" size={16} w={400} fam={LFONT} color="#000" align="center" />
      <Txt x={953} cy={1380} t="2011. december" size={16} fam={FONT} color={HEAD} align="right" />
    </div>
  );
}
